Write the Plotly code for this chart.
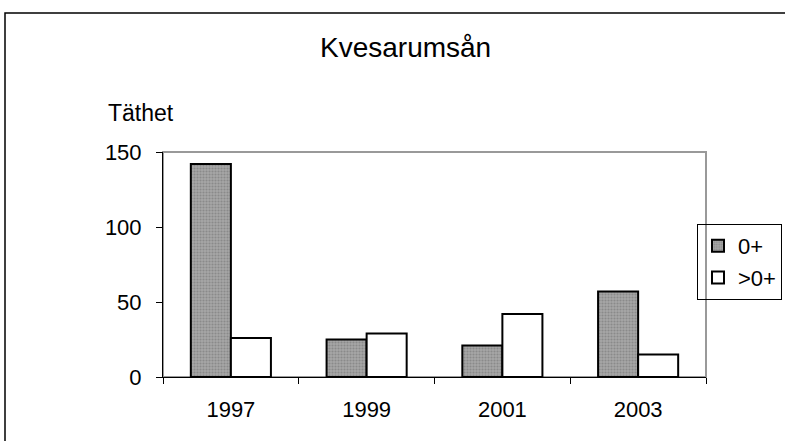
import plotly.graph_objects as go

years = ["1997", "1999", "2001", "2003"]
young = [142, 25, 21, 57]
older = [26, 29, 42, 15]
y_ticks = [0, 50, 100, 150]

FONT = "Liberation Sans, Arial, sans-serif"

# plot area in pixels: x 163..706, y 152..377
L, R, T, B = 163, 706, 152, 377
W, H = 785, 441
pw, ph = R - L, B - T

def px(x):
    return (x - L) / pw

def py(y):
    return (B - y) / ph

fig = go.Figure()
fig.add_trace(go.Bar(
    x=years, y=young, name="0+",
    marker=dict(color="#a6a6a6", line=dict(color="black", width=2),
                pattern=dict(shape=".", fgcolor="#6e6e6e", size=3, solidity=0.4)),
))
fig.add_trace(go.Bar(
    x=years, y=older, name=">0+",
    marker=dict(color="white", line=dict(color="black", width=2)),
))

fig.update_layout(
    width=W, height=H,
    margin=dict(l=L, r=W - R, t=T, b=H - B, pad=0, autoexpand=False),
    paper_bgcolor="white", plot_bgcolor="white",
    font=dict(family=FONT, size=22, color="black"),
    barmode="group", bargap=0.41, bargroupgap=0,
    showlegend=True,
    legend=dict(x=px(697), y=py(224), xanchor="left", yanchor="top",
                bordercolor="black", borderwidth=1, bgcolor="rgba(255,255,255,0)",
                font=dict(size=22), itemwidth=30),
    xaxis=dict(showline=True, linecolor="black", linewidth=1,
               ticks="outside", ticklen=6, tickcolor="black",
               tickson="boundaries", showgrid=False, ticklabelstandoff=13),
    yaxis=dict(range=[0, 150], tickvals=y_ticks, showline=True, linecolor="black",
               linewidth=1, ticks="outside", ticklen=6, tickcolor="black",
               showgrid=False, zeroline=False, ticklabelstandoff=10),
    shapes=[
        dict(type="rect", xref="paper", yref="paper", x0=0, x1=1, y0=0, y1=1,
             line=dict(color="#999999", width=2), layer="below"),
        dict(type="rect", xref="paper", yref="paper", x0=px(5), x1=px(800), y0=py(460), y1=py(13),
             line=dict(color="black", width=1.5), layer="below"),
    ],
    annotations=[
        dict(text="Kvesarumsån", xref="paper", yref="paper", x=px(405), y=py(47),
             xanchor="center", yanchor="middle", showarrow=False, font=dict(size=28)),
        dict(text="Täthet", xref="paper", yref="paper", x=px(141), y=py(113),
             xanchor="center", yanchor="middle", showarrow=False, font=dict(size=23)),
    ],
)

fig.write_html("out.html", post_script="document.body.style.margin='0';",
               config={"displayModeBar": False})
